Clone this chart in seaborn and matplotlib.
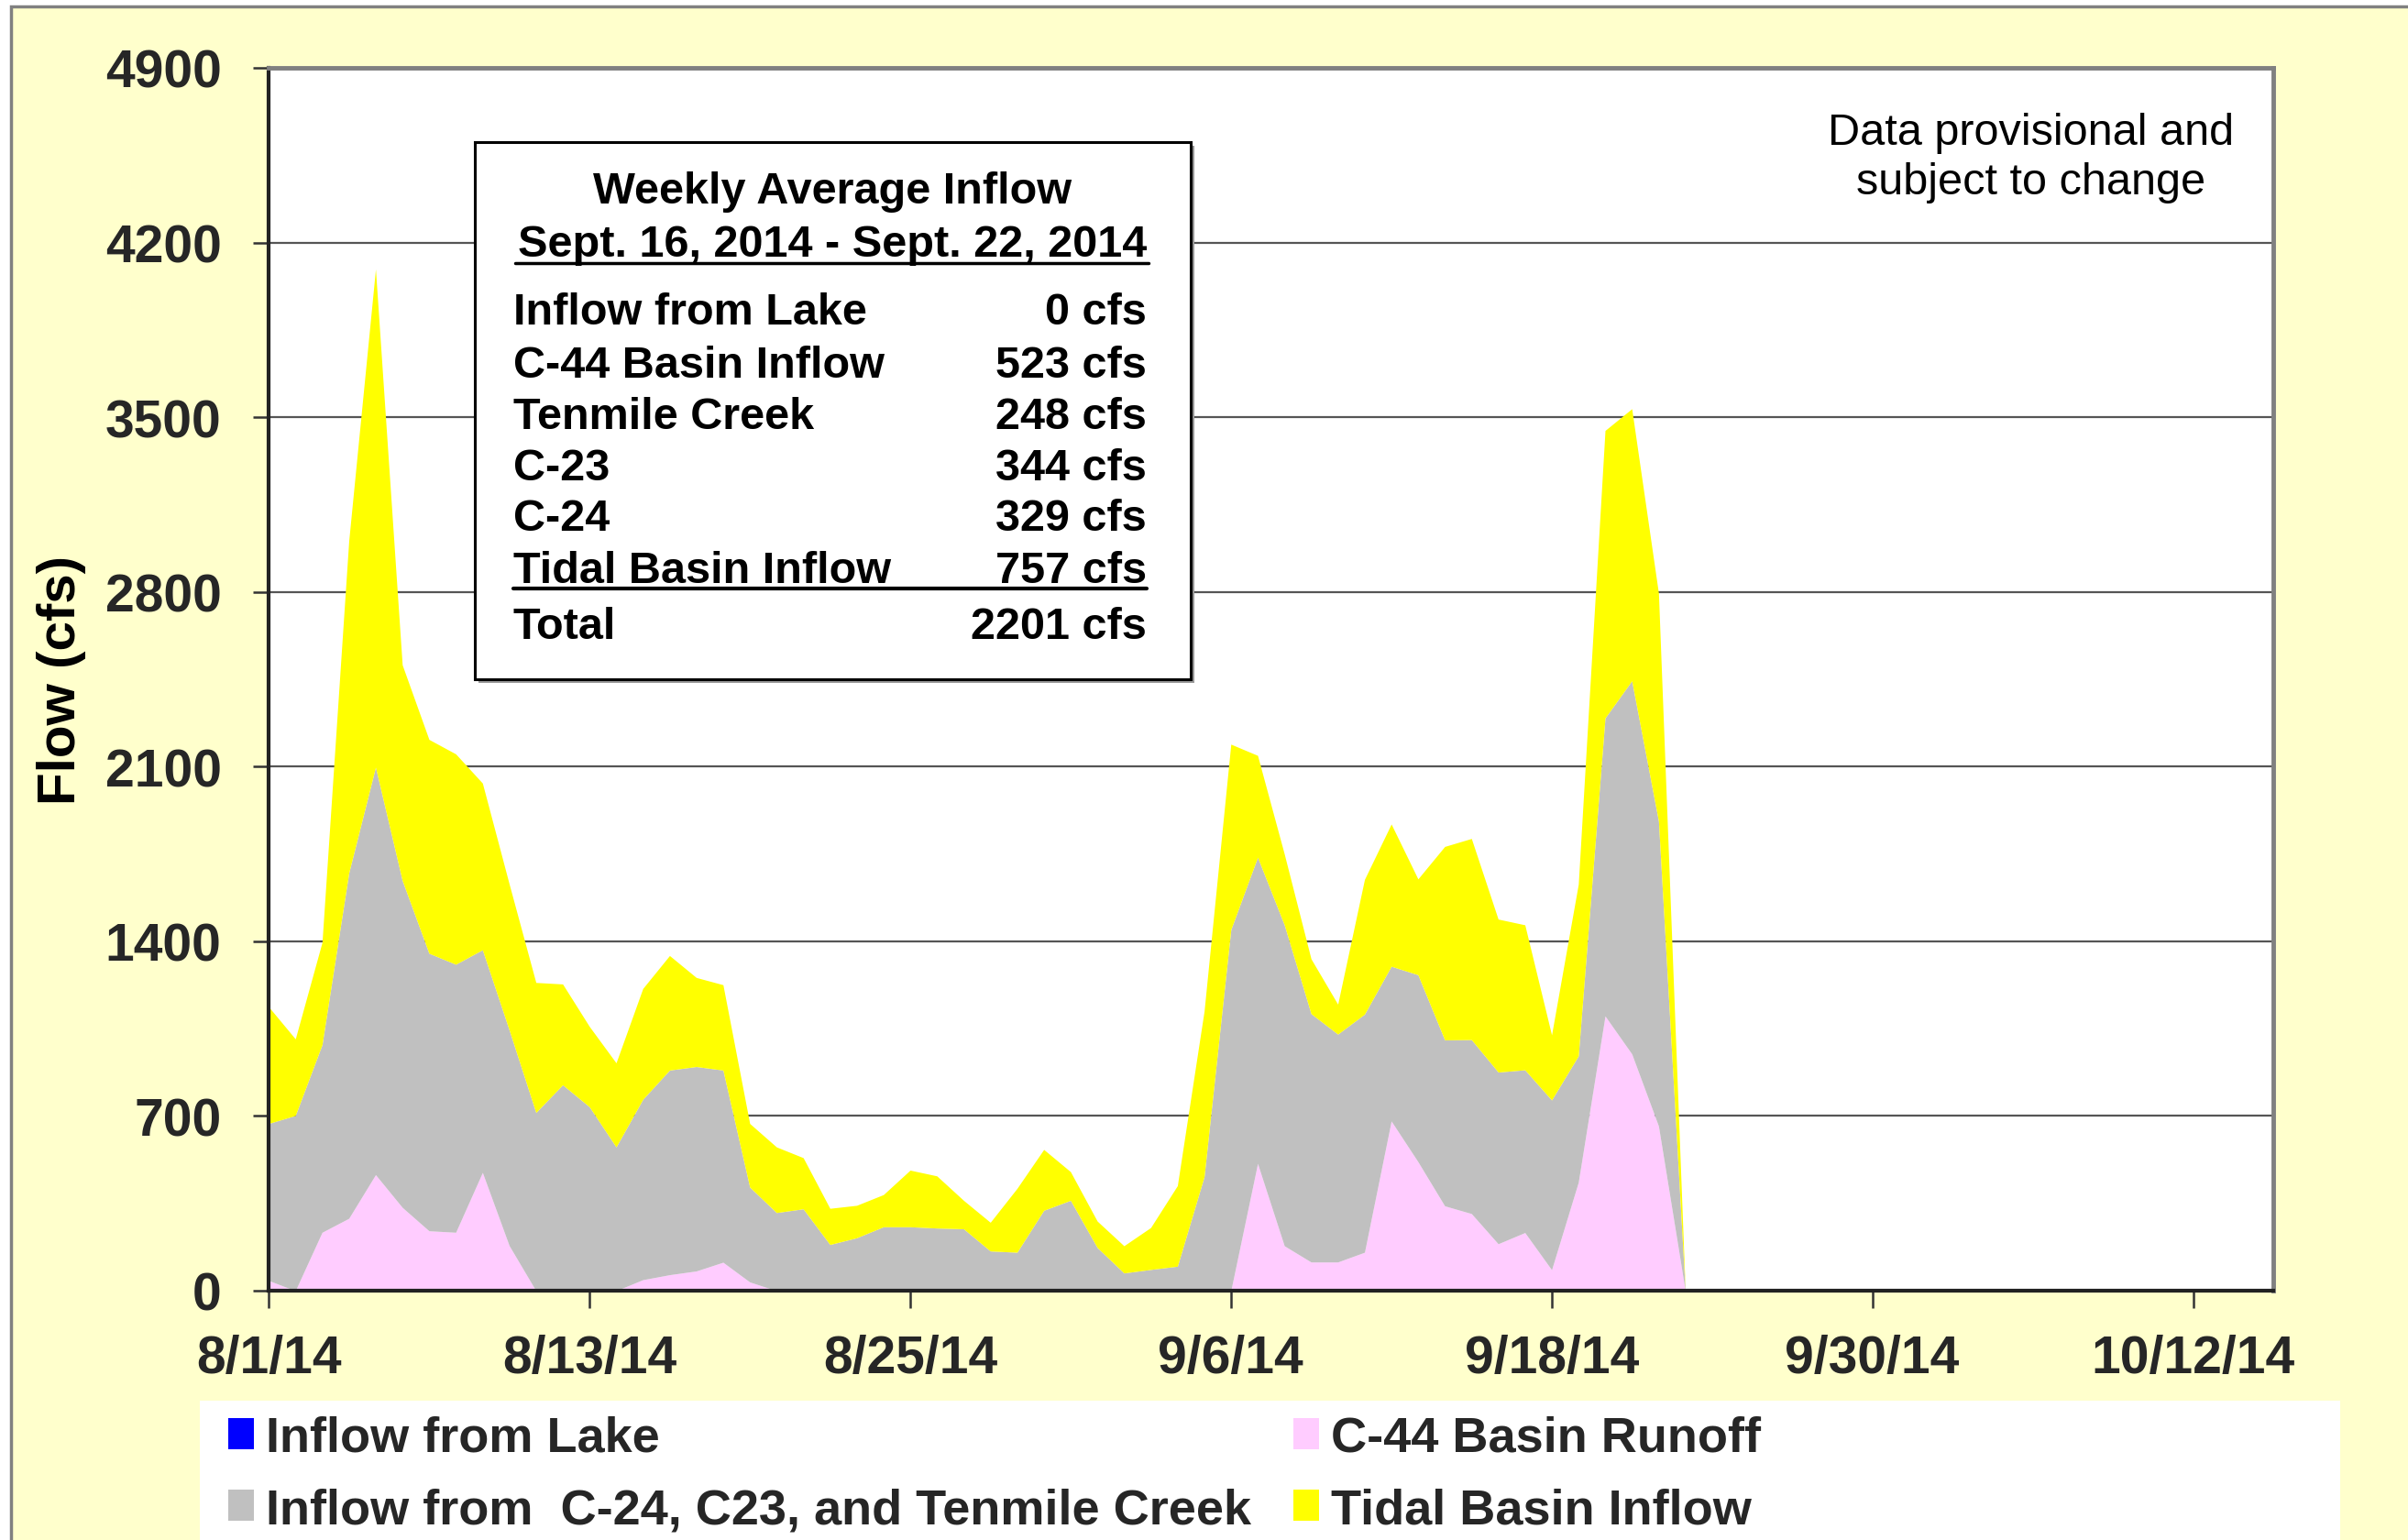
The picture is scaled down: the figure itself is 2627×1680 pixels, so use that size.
import numpy as np
import pandas as pd
import matplotlib
matplotlib.use("Agg")
import matplotlib.pyplot as plt
from matplotlib.patches import Rectangle, Patch
from matplotlib.lines import Line2D
from matplotlib.font_manager import FontProperties
import seaborn as sns

# ---------------- data (daily, starting 8/1/14) ----------------
start_date = "2014-08-01"
lake_inflow = [0] * 54
c44_runoff = [41, 0, 234, 290, 465, 334, 240, 234, 474, 181,
              0, 0, 0, 0, 44, 64, 79, 114, 35, 0,
              0, 0, 0, 0, 0, 0, 0, 0, 0, 0,
              0, 0, 0, 0, 0, 0, 0, 510, 180, 115,
              115, 154, 680, 517, 340, 309, 188, 233, 84, 435,
              1101, 949, 660, 0]
c24_c23_tenmile = [629, 702, 752, 1384, 1633, 1310, 1112, 1074, 892, 864,
                   714, 825, 737, 576, 723, 820, 819, 770, 380, 313,
                   328, 185, 212, 256, 256, 251, 248, 159, 154, 322,
                   362, 173, 71, 85, 98, 457, 1447, 1227, 1286, 995,
                   913, 954, 620, 749, 665, 697, 688, 652, 680, 506,
                   1194, 1495, 1222, 0]
tidal_inflow = [468, 307, 410, 1331, 1996, 864, 857, 843, 668, 585,
                521, 404, 322, 337, 444, 459, 357, 342, 255, 263,
                205, 145, 130, 129, 227, 209, 114, 115, 256, 244,
                115, 106, 109, 168, 323, 663, 743, 408, 284, 220,
                120, 540, 570, 384, 775, 806, 613, 581, 261, 688,
                1152, 1090, 913, 0]

series_labels = ["Inflow from Lake", "C-44 Basin Runoff",
                 "Inflow from  C-24, C23, and Tenmile Creek", "Tidal Basin Inflow"]
series_colors = ["#0000FF", "#FFCCFF", "#C0C0C0", "#FFFF00"]

tick_dates = ["2014-08-01", "2014-08-13", "2014-08-25", "2014-09-06",
              "2014-09-18", "2014-09-30", "2014-10-12"]
tick_labels = ["8/1/14", "8/13/14", "8/25/14", "9/6/14", "9/18/14", "9/30/14", "10/12/14"]
x_end = "2014-10-15"
y_ticks = [0, 700, 1400, 2100, 2800, 3500, 4200, 4900]

box_title = "Weekly Average Inflow"
box_period = "Sept. 16, 2014 - Sept. 22, 2014"
box_rows = ["Inflow from Lake", "C-44 Basin Inflow", "Tenmile Creek", "C-23", "C-24",
            "Tidal Basin Inflow", "Total"]
box_vals = ["0 cfs", "523 cfs", "248 cfs", "344 cfs", "329 cfs", "757 cfs", "2201 cfs"]

# ---------------- figure ----------------
W, H = 2627, 1681
sns.set_theme(style="white")
plt.rcParams['font.family'] = ['Liberation Sans', 'DejaVu Sans']

fig = plt.figure(figsize=(W / 100, H / 100), dpi=100)
fig.patch.set_facecolor("white")


def fx(x):
    return x / W


def fy(y):
    return 1 - y / H


# outer chart background with border (cropped at right/bottom)
fig.add_artist(Rectangle((fx(12), -0.05), 1.2, fy(8) + 0.05, transform=fig.transFigure,
                         facecolor="#FFFFCC", edgecolor="#808080", lw=2.5, zorder=0))

ax = fig.add_axes([fx(293), fy(1409), (2480 - 293) / W, (1409 - 75) / H])
ax.set_facecolor("white")

dates = pd.date_range(start_date, periods=len(c44_runoff), freq="D")
ax.stackplot(dates, lake_inflow, c44_runoff, c24_c23_tenmile, tidal_inflow,
             colors=series_colors, linewidth=0, zorder=2)

ax.set_xlim(pd.Timestamp(start_date), pd.Timestamp(x_end))
ax.set_ylim(0, 4900)
ax.set_yticks(y_ticks)
ax.set_yticklabels([str(v) for v in y_ticks])
ax.set_xticks(pd.to_datetime(tick_dates))
ax.set_xticklabels(tick_labels)

ax.set_axisbelow(True)
ax.yaxis.grid(True, color="#555555", lw=1.6)
ax.xaxis.grid(False)

for lab in ax.get_xticklabels() + ax.get_yticklabels():
    lab.set_fontweight("bold")
    lab.set_fontsize(41)
ax.tick_params(axis="x", direction="out", length=13.5, width=1.8, color="#333333", pad=20, bottom=True)
ax.tick_params(axis="y", direction="out", length=12, width=1.8, color="#333333", pad=25, left=True)

for side in ["left", "bottom"]:
    ax.spines[side].set_color("#222222")
    ax.spines[side].set_linewidth(3)
for side in ["top", "right"]:
    ax.spines[side].set_color("#808080")
    ax.spines[side].set_linewidth(3.5)

ax.set_ylabel("Flow (cfs)", fontsize=42, fontweight="bold", color="black")
ax.yaxis.set_label_coords(-0.091, 0.5)

# note top-right
note_fp = dict(fontsize=35, ha="center", va="center", color="black")
fig.text(fx(2216), fy(145), "Data provisional and", **note_fp)
fig.text(fx(2216), fy(200), "subject to change", **note_fp)

# inset summary box
bx0, bx1, by0, by1 = 518, 1299, 156, 742
fig.add_artist(Rectangle((fx(bx0 + 4), fy(by1 + 4)), (bx1 - bx0) / W, (by1 - by0) / H,
                         transform=fig.transFigure, facecolor="#999999", edgecolor="none", zorder=5))
fig.add_artist(Rectangle((fx(bx0), fy(by1)), (bx1 - bx0) / W, (by1 - by0) / H,
                         transform=fig.transFigure, facecolor="white", edgecolor="black",
                         lw=2.2, zorder=6))
bold_kw = dict(fontsize=35, fontweight="bold", color="black", zorder=7)
fig.text(fx(908), fy(210), box_title, ha="center", va="center", **bold_kw)
fig.text(fx(908), fy(268), box_period, ha="center", va="center", **bold_kw)
fig.add_artist(Line2D([fx(562), fx(1253)], [fy(288), fy(288)], transform=fig.transFigure,
                      color="black", lw=2.5, zorder=7))
row_y = [341, 399, 455, 511, 567, 623, 685]
for name, val, yy in zip(box_rows, box_vals, row_y):
    fig.text(fx(560), fy(yy), name, ha="left", va="center", **bold_kw)
    fig.text(fx(1251), fy(yy), val, ha="right", va="center", **bold_kw)
fig.add_artist(Line2D([fx(560), fx(1251)], [fy(643), fy(643)], transform=fig.transFigure,
                      color="black", lw=3, zorder=7))

# legend box
fig.add_artist(Rectangle((fx(218), -0.01), (2553 - 218) / W, fy(1529) + 0.01,
                         transform=fig.transFigure, facecolor="white", edgecolor="none", zorder=1))
handles = [Patch(facecolor=c, edgecolor="none") for c in series_colors]
order = [0, 2, 1, 3]
leg = fig.legend([handles[i] for i in order], [series_labels[i] for i in order],
                 ncol=2, loc="upper left", bbox_to_anchor=(fx(249), fy(1545)),
                 bbox_transform=fig.transFigure, frameon=False, borderpad=0, borderaxespad=0,
                 handlelength=0.52, handleheight=0.6, handletextpad=0.24,
                 columnspacing=0.85, labelspacing=0.52,
                 prop=FontProperties(family="Liberation Sans", weight="bold", size=39))
leg.set_zorder(3)

fig.savefig("out.png", dpi=100, facecolor=fig.get_facecolor())
